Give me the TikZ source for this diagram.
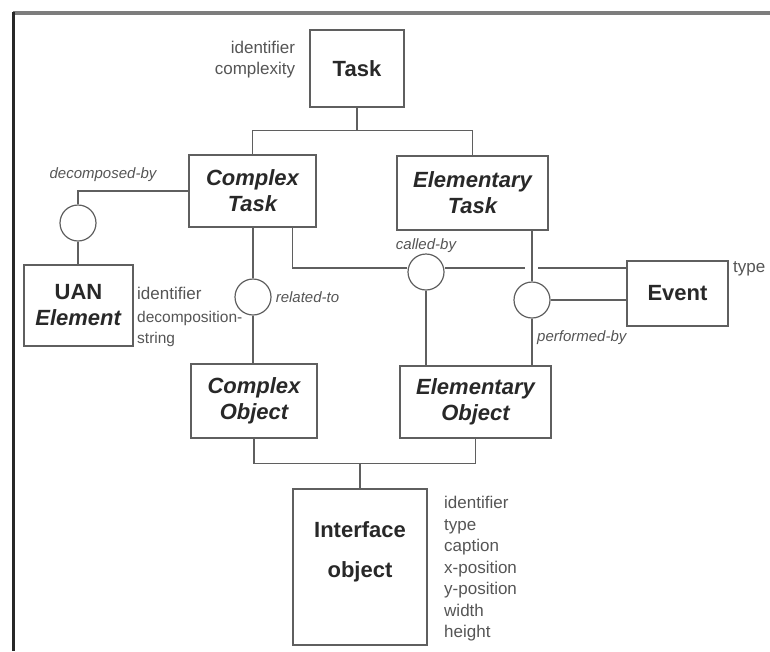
\documentclass[tikz,border=0pt]{standalone}
\usepackage{fontspec}
\setmainfont{Liberation Sans}
\usepackage{tikz}
\definecolor{linegray}{RGB}{95,95,95}
\definecolor{textgray}{RGB}{40,40,40}
\definecolor{attrgray}{RGB}{85,85,85}
\definecolor{framegray}{RGB}{125,125,125}
\usetikzlibrary{positioning,calc}
\tikzset{
    box/.style={rectangle, draw=linegray, line width=1.4pt, inner sep=0pt, align=center, text=textgray, font=\fontsize{22}{26}\selectfont\bfseries},
    ibox/.style={box, font=\fontsize{22}{26}\selectfont\bfseries\itshape},
    rel/.style={circle, draw=linegray, line width=1.2pt, fill=white, minimum size=36pt, inner sep=0pt},
    link/.style={draw=linegray, line width=1.3pt},
    attr/.style={inner sep=0pt, text=attrgray, align=left, font=\fontsize{17}{21.5}\selectfont},
    role/.style={inner sep=0pt, text=attrgray, font=\fontsize{15}{17}\selectfont\itshape},
}

\begin{document}
\begin{tikzpicture}[x=1pt, y=-1pt]
    \useasboundingbox (0,0) rectangle (770,651);
    % Frame
    \draw[framegray, line width=3.5pt] (13,13) -- (770,13);
    \draw[textgray, line width=3pt] (13,11.5) -- (13,651);

    % Task hierarchy
    \node[box, minimum width=94pt, minimum height=77pt] (task) at (357,68.5) {Task};
    \node[attr, align=right, left=14pt of task.west, yshift=9pt] (taskattr) {identifier\\complexity};
    \node[ibox, minimum width=127pt, minimum height=72pt] (ctask) at (252.5,191) {Complex\\Task};
    \node[ibox, minimum width=151pt, minimum height=74pt] (etask) at (472.5,193) {Elementary\\Task};

    % UAN element
    \node[rel] (cdec) at (78,223) {};
    \node[box, minimum width=109pt, minimum height=81pt] (uan) at (78.5,305.5) {UAN\\\textit{Element}};
    \node[attr, anchor=west] (uanid) at (137,293) {identifier};
    \node[attr, font=\fontsize{15.5}{21}\selectfont, anchor=north west] (uanstr) at (137,311) {decomposition-\\string};

    % Relationships and event
    \node[rel] (crel) at (253,297) {};
    \node[rel] (ccall) at (426,272) {};
    \node[rel] (cperf) at (532,300) {};
    \node[box, minimum width=101pt, minimum height=65pt] (event) at (677.5,293.5) {Event};
    \node[attr, anchor=north west] (eventattr) at (733,261) {type};

    \node[role] (decby) at (103,175) {decomposed-by};
    \node[role, right=4pt of crel.east] (relto) {related-to};
    \node[role, above=1pt of ccall.north] (calby) {called-by};
    \node[role, anchor=west] (perfby) at (537,338) {performed-by};

    % Objects
    \node[ibox, minimum width=126pt, minimum height=74pt] (cobj) at (254,401) {Complex\\Object};
    \node[ibox, minimum width=151pt, minimum height=72pt] (eobj) at (475.5,402) {Elementary\\Object};
    \node[box, minimum width=134pt, minimum height=156pt,
          label={[box, draw=none, anchor=north, yshift=-33pt]north:Interface\\[14pt]object}] (iface) at (360,567) {};
    \node[attr, anchor=north west] (ifattr) at (444,496) {identifier\\type\\caption\\x-position\\y-position\\width\\height};

    % Connectors
    \draw[link] (task.south) -- ++(0,23) coordinate (tbar);
    \draw[link] (ctask.north) |- (tbar) -| (etask.north);
    \draw[link] (ctask.west) -| (cdec.north);
    \draw[link] (cdec.south) -- (cdec.south |- uan.north);
    \draw[link] (crel.north |- ctask.south) -- (crel.north);
    \draw[link] (crel.south) -- (crel.south |- cobj.north);
    \draw[link] ([xshift=-24pt]ctask.south east) |- ([yshift=4pt]ccall.west);
    \coordinate (hop) at ($(cperf.north |- ccall.east)+(0,-4)$);
    \draw[link] ([yshift=4pt]ccall.east) -- ([xshift=-7pt]hop);
    \draw[link] ([xshift=6pt]hop) -- (event.west |- hop);
    \draw[link] (cperf.north |- etask.south) -- (cperf.north);
    \draw[link] (cperf.east) -- (cperf.east -| event.west);
    \draw[link] (cperf.south) -- (cperf.south |- eobj.north);
    \draw[link] (ccall.south) -- (ccall.south |- eobj.north);
    \draw[link] (cobj.south) -- ++(0,25) coordinate (obar) -| (eobj.south);
    \draw[link] (iface.north) -- (iface.north |- obar);
\end{tikzpicture}
\end{document}
